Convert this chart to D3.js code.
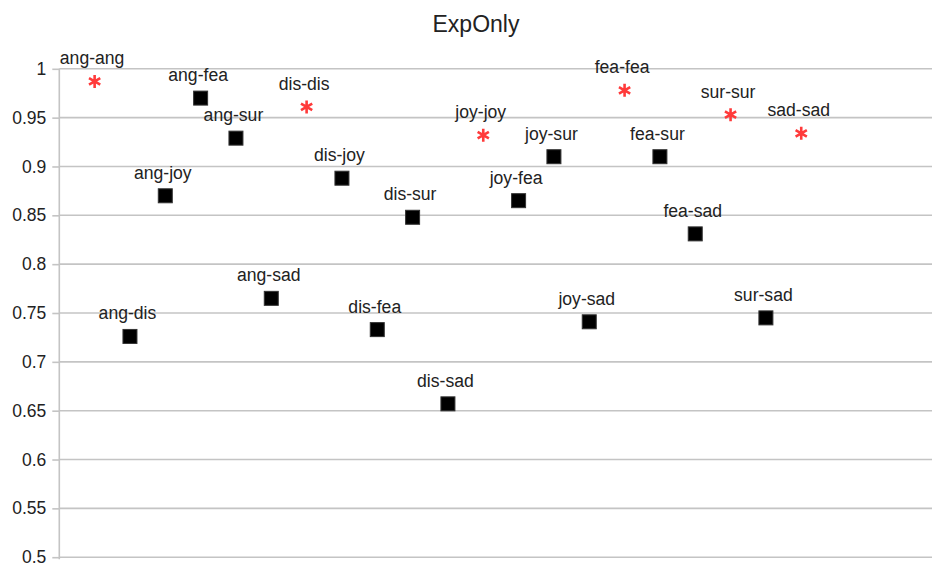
<!DOCTYPE html>
<html>
<head>
<meta charset="utf-8">
<script src="https://cdn.jsdelivr.net/npm/d3@7"></script>
<style>
  body { margin: 0; background: #fff; }
  svg { display: block; }
  text { font-family: "Liberation Sans", Arial, sans-serif; fill: #222; }
</style>
</head>
<body>
<svg id="chart" width="932" height="563"></svg>
<script>
// ---- data ----
const title = "ExpOnly";
const categories = ["ang-ang","ang-dis","ang-joy","ang-fea","ang-sur","ang-sad",
  "dis-dis","dis-joy","dis-fea","dis-sur","dis-sad",
  "joy-joy","joy-fea","joy-sur","joy-sad",
  "fea-fea","fea-sur","fea-sad",
  "sur-sur","sur-sad",
  "sad-sad"];
const values = [0.987, 0.726, 0.870, 0.970, 0.929, 0.765,
  0.961, 0.888, 0.733, 0.848, 0.657,
  0.932, 0.865, 0.910, 0.741,
  0.978, 0.910, 0.831,
  0.953, 0.745,
  0.934];
// same-emotion pairs are drawn as stars, others as squares
const isDiagonal = categories.map(c => { const p = c.split("-"); return p[0] === p[1]; });
const yTicks = [0.5, 0.55, 0.6, 0.65, 0.7, 0.75, 0.8, 0.85, 0.9, 0.95, 1];
const yTickLabels = ["0.5","0.55","0.6","0.65","0.7","0.75","0.8","0.85","0.9","0.95","1"];

// ---- layout ----
const svg = d3.select("#chart");
const W = 932, H = 563;
const mLeft = 59.3, mTop = 68.8, mBottom = 557.2;
const step = 35.33;

const x = d3.scaleLinear().domain([0, 25]).range([mLeft, mLeft + 25 * step]);
const y = d3.scaleLinear().domain([0.5, 1]).range([mBottom, mTop]);

// title
svg.append("text").attr("x", 476).attr("y", 32)
  .attr("text-anchor", "middle").style("font-size", "23px").text(title);

// grid
svg.append("g").selectAll("line").data(yTicks).join("line")
  .attr("x1", mLeft).attr("x2", W)
  .attr("y1", d => y(d)).attr("y2", d => y(d))
  .attr("stroke", "#c4c4c4").attr("stroke-width", 1.6);

// y axis
const yAxis = d3.axisLeft(y).tickValues(yTicks)
  .tickFormat((d, i) => yTickLabels[i]).tickSize(7).tickPadding(6);
const ga = svg.append("g").attr("transform", `translate(${mLeft},0)`).call(yAxis);
ga.select(".domain").attr("stroke", "#c4c4c4").attr("stroke-width", 1.6)
  .attr("d", `M0,${mBottom + 2}V${mTop}`);
ga.selectAll(".tick line").attr("stroke", "#c4c4c4").attr("stroke-width", 1.6);
ga.selectAll(".tick text").style("font-size", "17.5px").attr("fill", "#222")
  .style("font-family", "'Liberation Sans', Arial, sans-serif");

// points
const data = categories.map((c, i) => ({ c, v: values[i], i: i + 1, star: isDiagonal[i] }));
const g = svg.append("g");
const sq = 14;
g.selectAll("rect").data(data.filter(d => !d.star)).join("rect")
  .attr("x", d => x(d.i) - sq / 2).attr("y", d => y(d.v) - sq / 2)
  .attr("width", sq).attr("height", sq)
  .attr("fill", "#000").attr("stroke", "#333").attr("stroke-width", 1);

const starPath = (() => {
  const r = 6.5; let p = "";
  [90, 30, -30].forEach(a => {
    const rad = a * Math.PI / 180;
    const dx = r * Math.cos(rad), dy = r * Math.sin(rad);
    p += `M${-dx},${-dy}L${dx},${dy}`;
  });
  return p;
})();
g.selectAll("path.star").data(data.filter(d => d.star)).join("path")
  .attr("class", "star")
  .attr("transform", d => `translate(${x(d.i)},${y(d.v)})`)
  .attr("d", starPath).attr("stroke", "#ff3a3a").attr("stroke-width", 2.6)
  .attr("fill", "none");

// labels
g.selectAll("text").data(data).join("text")
  .attr("x", d => x(d.i) - 2.5).attr("y", d => y(d.v) - 17)
  .attr("text-anchor", "middle").style("font-size", "17.6px")
  .text(d => d.c);
</script>
</body>
</html>
